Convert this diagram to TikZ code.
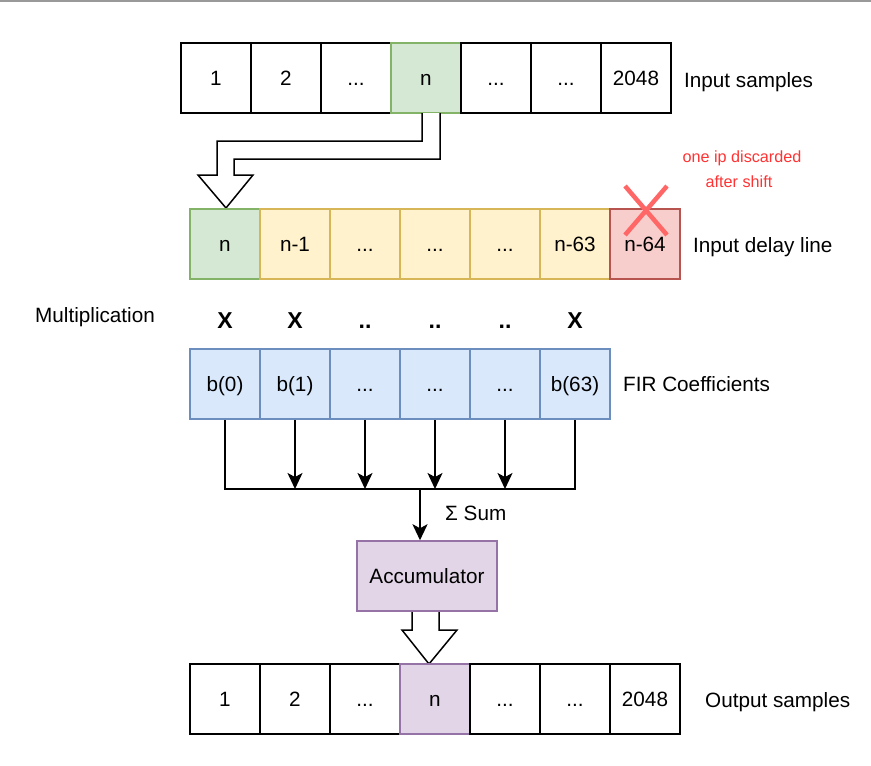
\documentclass[tikz,border=0pt]{standalone}
\usepackage{fontspec}
\setmainfont{Liberation Sans}
\usetikzlibrary{arrows.meta}
\definecolor{greenF}{HTML}{D5E8D4}\definecolor{greenD}{HTML}{82B366}
\definecolor{yellowF}{HTML}{FFF2CC}\definecolor{yellowD}{HTML}{D6B656}
\definecolor{redF}{HTML}{F8CECC}\definecolor{redD}{HTML}{B85450}
\definecolor{blueF}{HTML}{DAE8FC}\definecolor{blueD}{HTML}{6C8EBF}
\definecolor{purpF}{HTML}{E1D5E7}\definecolor{purpD}{HTML}{9673A6}
\definecolor{redX}{HTML}{FF6666}\definecolor{redT}{HTML}{FF3333}
\tikzset{
  cell/.style={draw, line width=1.5pt, minimum width=70pt, minimum height=70pt, inner sep=0pt,
    font=\fontsize{20.7}{24}\selectfont, text height=14.8pt, text depth=0pt},
  plain/.style={cell, fill=white, draw=black},
  grn/.style={cell, fill=greenF, draw=greenD},
  yel/.style={cell, fill=yellowF, draw=yellowD},
  rd/.style={cell, fill=redF, draw=redD},
  blu/.style={cell, fill=blueF, draw=blueD},
  pur/.style={cell, fill=purpF, draw=purpD},
  lbl/.style={inner sep=0pt, anchor=base west, font=\fontsize{20.7}{24}\selectfont},
  redlbl/.style={inner sep=0pt, anchor=base, text=redT, font=\fontsize{16.2}{19}\selectfont},
  mult/.style={inner sep=0pt, anchor=base, font=\bfseries\fontsize{23}{27}\selectfont},
  wire/.style={draw=black, line width=1.5pt},
  arr/.style={wire, -{Stealth[length=16pt, width=15pt, inset=4pt]}},
  hollow/.style={draw=black, fill=white, line width=1.5pt, line join=miter},
}
\begin{document}
\begin{tikzpicture}[x=1pt, y=-1pt]
\useasboundingbox (0,0) rectangle (871,766);
\draw[color=black!40, line width=1.5pt] (0,0.75) -- (871,0.75);

% input samples
\node[plain] (t1) at (216,78) {1};
\node[plain] (t2) at (286,78) {2};
\node[plain] (t3) at (356,78) {...};
\node[grn]   (t4) at (426,78) {n};
\node[plain] (t5) at (496,78) {...};
\node[plain] (t6) at (566,78) {...};
\node[plain] (t7) at (636,78) {2048};
\node[lbl] (lin) at (684,87) {Input samples};

% hollow arrow from input n to delay line
\draw[hollow] (422,113) -- (422,141) -- (217,141) -- (217,175) -- (198,175) -- (226,208)
  -- (253,175) -- (234,175) -- (234,159) -- (440,159) -- (440,113);

% delay line
\node[grn] (d1) at (225,244) {n};
\node[yel] (d2) at (295,244) {n-1};
\node[yel] (d3) at (365,244) {...};
\node[yel] (d4) at (435,244) {...};
\node[yel] (d5) at (505,244) {...};
\node[yel] (d6) at (575,244) {n-63};
\node[rd]  (d7) at (645,244) {n-64};
\node[lbl] (ldl) at (693,252) {Input delay line};
\draw[redX, line width=4.5pt] (625,186) -- (667,235);
\draw[redX, line width=4.5pt] (667,186) -- (625,235);
\node[redlbl] (r1) at (742,162) {one ip discarded};
\node[redlbl] (r2) at (739,187) {after shift};

% multiplication
\node[lbl] (lmul) at (35,322) {Multiplication};
\node[mult] (m1) at (225,328) {X};
\node[mult] (m2) at (295,328) {X};
\node[mult] (m3) at (365,328) {..};
\node[mult] (m4) at (435,328) {..};
\node[mult] (m5) at (505,328) {..};
\node[mult] (m6) at (575,328) {X};

% coefficients
\node[blu] (c1) at (225,384) {b(0)};
\node[blu] (c2) at (295,384) {b(1)};
\node[blu] (c3) at (365,384) {...};
\node[blu] (c4) at (435,384) {...};
\node[blu] (c5) at (505,384) {...};
\node[blu] (c6) at (575,384) {b(63)};
\node[lbl] (lfir) at (623,391) {FIR Coefficients};

% summation bus
\coordinate (bus) at (0,489);
\draw[wire] (c1.south) -- (c1.south |- bus) -- (c6.south |- bus) -- (c6.south);
\foreach \i in {2,3,4,5} {
  \draw[arr] (c\i.south) -- (c\i.south |- bus);
}
\node[pur, minimum width=140pt] (acc) at (427,576) {Accumulator};
\coordinate (sum) at (420,489);
\draw[arr, line width=2.2pt] (sum) -- (sum |- acc.north);
\node[lbl] (lsum) at (445,520) {Σ Sum};

% hollow arrow accumulator to output
\draw[hollow] (412,612) -- (412,630) -- (402,630) -- (429,664) -- (457,630) -- (439,630) -- (439,612);

% output samples
\node[plain] (o1) at (225,699) {1};
\node[plain] (o2) at (295,699) {2};
\node[plain] (o3) at (365,699) {...};
\node[pur]   (o4) at (435,699) {n};
\node[plain] (o5) at (505,699) {...};
\node[plain] (o6) at (575,699) {...};
\node[plain] (o7) at (645,699) {2048};
\node[lbl] (lout) at (705,707) {Output samples};
\end{tikzpicture}
\end{document}
